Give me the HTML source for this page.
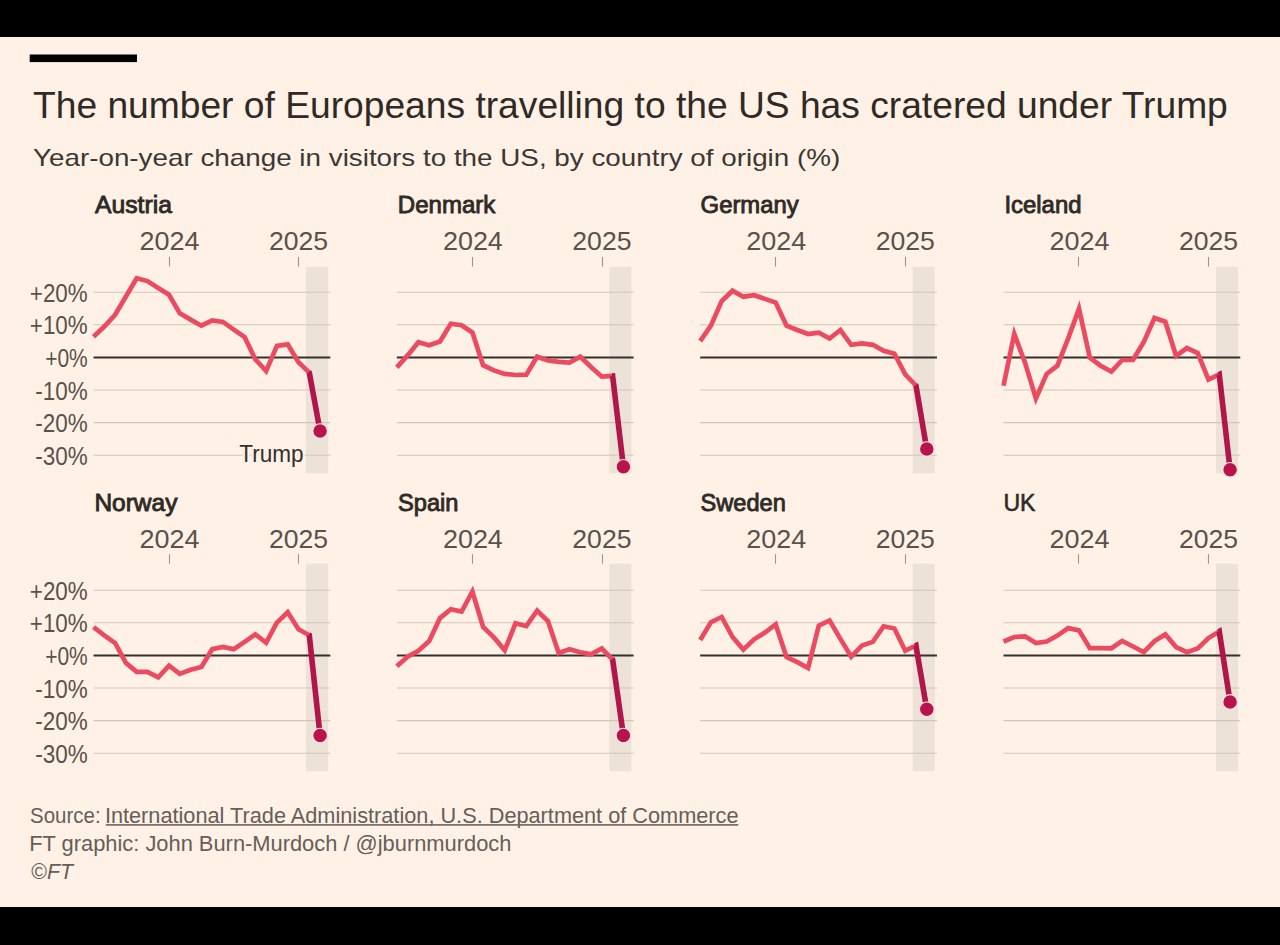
<!DOCTYPE html>
<html><head><meta charset="utf-8"><style>
html,body{margin:0;padding:0;background:#000;}
svg{display:block;}
text{font-family:"Liberation Sans",sans-serif;}
.tt{font-size:37.8px;fill:#2f2a26;}
.st{font-size:23.4px;fill:#3d3733;}
.nm{font-size:24.7px;fill:#2e2a26;stroke:#2e2a26;stroke-width:0.9px;}
.nm2{font-size:24.7px;fill:#2e2a26;stroke:#2e2a26;stroke-width:0.6px;}
.yr{font-size:26px;fill:#5a514b;}
.yl{font-size:26px;fill:#5a514b;}
.ft{font-size:21.8px;fill:#655e59;}
.tr{font-size:24.4px;fill:#33302e;stroke:#fff1e5;stroke-width:5px;paint-order:stroke;stroke-linejoin:round;}
</style></head><body>
<svg width="1280" height="945" viewBox="0 0 1280 945">
<rect x="0" y="0" width="1280" height="945" fill="#000"/>
<rect x="0" y="37" width="1280" height="870" fill="#fff1e5"/>
<rect x="29.7" y="54.5" width="107.3" height="7.6" fill="#000"/>
<text x="33.00" y="118.40" class="tt" textLength="1194.80" lengthAdjust="spacingAndGlyphs">The number of Europeans travelling to the US has cratered under Trump</text>
<text x="33.00" y="165.80" class="st" textLength="807.21" lengthAdjust="spacingAndGlyphs">Year-on-year change in visitors to the US, by country of origin (%)</text>
<text x="95.00" y="213.00" class="nm" textLength="76.88" lengthAdjust="spacingAndGlyphs">Austria</text>
<text x="397.80" y="213.00" class="nm" textLength="97.48" lengthAdjust="spacingAndGlyphs">Denmark</text>
<text x="700.60" y="213.00" class="nm" textLength="98.06" lengthAdjust="spacingAndGlyphs">Germany</text>
<text x="1004.40" y="213.00" class="nm" textLength="77.10" lengthAdjust="spacingAndGlyphs">Iceland</text>
<text x="94.40" y="510.80" class="nm" textLength="83.06" lengthAdjust="spacingAndGlyphs">Norway</text>
<text x="398.00" y="510.80" class="nm" textLength="60.52" lengthAdjust="spacingAndGlyphs">Spain</text>
<text x="700.60" y="510.80" class="nm" textLength="85.27" lengthAdjust="spacingAndGlyphs">Sweden</text>
<text x="1003.40" y="510.80" class="nm2" textLength="32.10" lengthAdjust="spacingAndGlyphs">UK</text>
<text x="30.10" y="822.80" class="ft" textLength="70.51" lengthAdjust="spacingAndGlyphs">Source:</text>
<text x="104.90" y="822.80" class="ft" textLength="633.62" lengthAdjust="spacingAndGlyphs">International Trade Administration, U.S. Department of Commerce</text>
<text x="29.20" y="851.30" class="ft" textLength="482.23" lengthAdjust="spacingAndGlyphs">FT graphic: John Burn-Murdoch / @jburnmurdoch</text>
<text x="31.30" y="879.20" class="ft" textLength="41.82" lengthAdjust="spacingAndGlyphs">©<tspan font-style="italic">FT</tspan></text>
<rect x="306.00" y="266.9" width="22.1" height="206.4" fill="#ede2d8"/>
<line x1="93.50" x2="330.30" y1="292.2" y2="292.2" stroke="#d2c6bb" stroke-width="1.1"/>
<line x1="93.50" x2="330.30" y1="324.8" y2="324.8" stroke="#d2c6bb" stroke-width="1.1"/>
<line x1="93.50" x2="330.30" y1="390.0" y2="390.0" stroke="#d2c6bb" stroke-width="1.1"/>
<line x1="93.50" x2="330.30" y1="422.6" y2="422.6" stroke="#d2c6bb" stroke-width="1.1"/>
<line x1="93.50" x2="330.30" y1="455.2" y2="455.2" stroke="#d2c6bb" stroke-width="1.1"/>
<line x1="169.5" x2="169.5" y1="257" y2="266.5" stroke="#9d948d" stroke-width="1.1"/>
<line x1="298.5" x2="298.5" y1="257" y2="266.5" stroke="#9d948d" stroke-width="1.1"/>
<text x="139.60" y="250.20" class="yr" textLength="59.92" lengthAdjust="spacingAndGlyphs">2024</text>
<text x="269.00" y="250.20" class="yr" textLength="59.14" lengthAdjust="spacingAndGlyphs">2025</text>
<text x="29.80" y="301.80" class="yl" textLength="57.94" lengthAdjust="spacingAndGlyphs">+20%</text>
<text x="29.80" y="334.40" class="yl" textLength="57.94" lengthAdjust="spacingAndGlyphs">+10%</text>
<text x="45.20" y="367.00" class="yl" textLength="42.50" lengthAdjust="spacingAndGlyphs">+0%</text>
<text x="35.20" y="399.60" class="yl" textLength="52.48" lengthAdjust="spacingAndGlyphs">-10%</text>
<text x="35.20" y="432.20" class="yl" textLength="52.48" lengthAdjust="spacingAndGlyphs">-20%</text>
<text x="35.20" y="464.80" class="yl" textLength="52.48" lengthAdjust="spacingAndGlyphs">-30%</text>
<line x1="93.50" x2="330.30" y1="357.4" y2="357.4" stroke="#33302e" stroke-width="2"/>
<polyline points="93.5,336.8 104.3,326.5 115.1,314.8 125.9,296.5 136.7,278.3 147.4,281.1 158.2,288.0 169.0,294.8 179.8,313.4 190.6,319.6 201.4,325.7 212.2,320.5 223.0,321.9 233.8,329.6 244.6,337.0 255.3,359.3 266.1,371.1 276.9,345.9 287.7,344.4 298.5,362.2 309.3,372.6" fill="none" stroke="#ec4a60" stroke-width="4.7" stroke-linejoin="miter" stroke-linecap="butt"/>
<polyline points="308.87,372.18 309.30,372.60 320.09,431.00" fill="none" stroke="#b0164a" stroke-width="5.6" stroke-linecap="butt" stroke-linejoin="miter"/>
<circle cx="320.1" cy="431.0" r="7.3" fill="#b8134b" stroke="#fbe6e4" stroke-width="1.1"/>
<rect x="609.33" y="266.9" width="22.1" height="206.4" fill="#ede2d8"/>
<line x1="396.83" x2="633.63" y1="292.2" y2="292.2" stroke="#d2c6bb" stroke-width="1.1"/>
<line x1="396.83" x2="633.63" y1="324.8" y2="324.8" stroke="#d2c6bb" stroke-width="1.1"/>
<line x1="396.83" x2="633.63" y1="390.0" y2="390.0" stroke="#d2c6bb" stroke-width="1.1"/>
<line x1="396.83" x2="633.63" y1="422.6" y2="422.6" stroke="#d2c6bb" stroke-width="1.1"/>
<line x1="396.83" x2="633.63" y1="455.2" y2="455.2" stroke="#d2c6bb" stroke-width="1.1"/>
<line x1="472.5" x2="472.5" y1="257" y2="266.5" stroke="#9d948d" stroke-width="1.1"/>
<line x1="602.5" x2="602.5" y1="257" y2="266.5" stroke="#9d948d" stroke-width="1.1"/>
<text x="442.93" y="250.20" class="yr" textLength="59.92" lengthAdjust="spacingAndGlyphs">2024</text>
<text x="572.33" y="250.20" class="yr" textLength="59.14" lengthAdjust="spacingAndGlyphs">2025</text>
<line x1="396.83" x2="633.63" y1="357.4" y2="357.4" stroke="#33302e" stroke-width="2"/>
<polyline points="396.8,367.4 407.6,355.4 418.4,342.2 429.2,345.2 440.0,341.5 450.8,323.7 461.6,325.2 472.4,332.6 483.1,365.2 493.9,370.4 504.7,373.9 515.5,375.0 526.3,374.6 537.1,356.7 547.9,360.4 558.7,361.9 569.5,362.6 580.3,356.7 591.0,367.0 601.8,376.7 612.6,375.9" fill="none" stroke="#ec4a60" stroke-width="4.7" stroke-linejoin="miter" stroke-linecap="butt"/>
<polyline points="612.03,375.94 612.63,375.90 623.42,466.80" fill="none" stroke="#b0164a" stroke-width="5.6" stroke-linecap="butt" stroke-linejoin="miter"/>
<circle cx="623.4" cy="466.8" r="7.3" fill="#b8134b" stroke="#fbe6e4" stroke-width="1.1"/>
<rect x="912.66" y="266.9" width="22.1" height="206.4" fill="#ede2d8"/>
<line x1="700.16" x2="936.96" y1="292.2" y2="292.2" stroke="#d2c6bb" stroke-width="1.1"/>
<line x1="700.16" x2="936.96" y1="324.8" y2="324.8" stroke="#d2c6bb" stroke-width="1.1"/>
<line x1="700.16" x2="936.96" y1="390.0" y2="390.0" stroke="#d2c6bb" stroke-width="1.1"/>
<line x1="700.16" x2="936.96" y1="422.6" y2="422.6" stroke="#d2c6bb" stroke-width="1.1"/>
<line x1="700.16" x2="936.96" y1="455.2" y2="455.2" stroke="#d2c6bb" stroke-width="1.1"/>
<line x1="775.5" x2="775.5" y1="257" y2="266.5" stroke="#9d948d" stroke-width="1.1"/>
<line x1="905.5" x2="905.5" y1="257" y2="266.5" stroke="#9d948d" stroke-width="1.1"/>
<text x="746.26" y="250.20" class="yr" textLength="59.92" lengthAdjust="spacingAndGlyphs">2024</text>
<text x="875.66" y="250.20" class="yr" textLength="59.14" lengthAdjust="spacingAndGlyphs">2025</text>
<line x1="700.16" x2="936.96" y1="357.4" y2="357.4" stroke="#33302e" stroke-width="2"/>
<polyline points="700.2,341.1 710.9,325.6 721.7,301.1 732.5,290.7 743.3,296.7 754.1,295.2 764.9,298.9 775.7,302.6 786.5,325.6 797.3,330.0 808.1,334.0 818.8,332.6 829.6,338.5 840.4,330.0 851.2,344.8 862.0,343.3 872.8,344.8 883.6,350.7 894.4,353.7 905.2,374.4 916.0,385.6" fill="none" stroke="#ec4a60" stroke-width="4.7" stroke-linejoin="miter" stroke-linecap="butt"/>
<polyline points="915.54,385.17 915.96,385.60 926.75,449.00" fill="none" stroke="#b0164a" stroke-width="5.6" stroke-linecap="butt" stroke-linejoin="miter"/>
<circle cx="926.8" cy="449.0" r="7.3" fill="#b8134b" stroke="#fbe6e4" stroke-width="1.1"/>
<rect x="1215.99" y="266.9" width="22.1" height="206.4" fill="#ede2d8"/>
<line x1="1003.49" x2="1240.29" y1="292.2" y2="292.2" stroke="#d2c6bb" stroke-width="1.1"/>
<line x1="1003.49" x2="1240.29" y1="324.8" y2="324.8" stroke="#d2c6bb" stroke-width="1.1"/>
<line x1="1003.49" x2="1240.29" y1="390.0" y2="390.0" stroke="#d2c6bb" stroke-width="1.1"/>
<line x1="1003.49" x2="1240.29" y1="422.6" y2="422.6" stroke="#d2c6bb" stroke-width="1.1"/>
<line x1="1003.49" x2="1240.29" y1="455.2" y2="455.2" stroke="#d2c6bb" stroke-width="1.1"/>
<line x1="1078.5" x2="1078.5" y1="257" y2="266.5" stroke="#9d948d" stroke-width="1.1"/>
<line x1="1208.5" x2="1208.5" y1="257" y2="266.5" stroke="#9d948d" stroke-width="1.1"/>
<text x="1049.59" y="250.20" class="yr" textLength="59.92" lengthAdjust="spacingAndGlyphs">2024</text>
<text x="1178.99" y="250.20" class="yr" textLength="59.14" lengthAdjust="spacingAndGlyphs">2025</text>
<line x1="1003.49" x2="1240.29" y1="357.4" y2="357.4" stroke="#33302e" stroke-width="2"/>
<polyline points="1003.5,385.7 1014.3,334.0 1025.1,362.9 1035.9,398.5 1046.7,373.9 1057.4,365.7 1068.2,338.3 1079.0,308.7 1089.8,357.6 1100.6,365.7 1111.4,371.5 1122.2,360.0 1133.0,359.8 1143.8,342.0 1154.5,318.0 1165.3,321.7 1176.1,356.0 1186.9,348.0 1197.7,353.0 1208.5,379.6 1219.3,374.4" fill="none" stroke="#ec4a60" stroke-width="4.7" stroke-linejoin="miter" stroke-linecap="butt"/>
<polyline points="1218.75,374.66 1219.29,374.40 1230.08,469.80" fill="none" stroke="#b0164a" stroke-width="5.6" stroke-linecap="butt" stroke-linejoin="miter"/>
<circle cx="1230.1" cy="469.8" r="7.3" fill="#b8134b" stroke="#fbe6e4" stroke-width="1.1"/>
<rect x="306.00" y="563.7" width="22.1" height="207.6" fill="#ede2d8"/>
<line x1="93.50" x2="330.30" y1="590.2" y2="590.2" stroke="#d2c6bb" stroke-width="1.1"/>
<line x1="93.50" x2="330.30" y1="622.8" y2="622.8" stroke="#d2c6bb" stroke-width="1.1"/>
<line x1="93.50" x2="330.30" y1="688.0" y2="688.0" stroke="#d2c6bb" stroke-width="1.1"/>
<line x1="93.50" x2="330.30" y1="720.6" y2="720.6" stroke="#d2c6bb" stroke-width="1.1"/>
<line x1="93.50" x2="330.30" y1="753.2" y2="753.2" stroke="#d2c6bb" stroke-width="1.1"/>
<line x1="169.5" x2="169.5" y1="554.2" y2="563.7" stroke="#9d948d" stroke-width="1.1"/>
<line x1="298.5" x2="298.5" y1="554.2" y2="563.7" stroke="#9d948d" stroke-width="1.1"/>
<text x="139.60" y="548.20" class="yr" textLength="59.92" lengthAdjust="spacingAndGlyphs">2024</text>
<text x="269.00" y="548.20" class="yr" textLength="59.14" lengthAdjust="spacingAndGlyphs">2025</text>
<text x="29.80" y="599.80" class="yl" textLength="57.94" lengthAdjust="spacingAndGlyphs">+20%</text>
<text x="29.80" y="632.40" class="yl" textLength="57.94" lengthAdjust="spacingAndGlyphs">+10%</text>
<text x="45.20" y="665.00" class="yl" textLength="42.50" lengthAdjust="spacingAndGlyphs">+0%</text>
<text x="35.20" y="697.60" class="yl" textLength="52.48" lengthAdjust="spacingAndGlyphs">-10%</text>
<text x="35.20" y="730.20" class="yl" textLength="52.48" lengthAdjust="spacingAndGlyphs">-20%</text>
<text x="35.20" y="762.80" class="yl" textLength="52.48" lengthAdjust="spacingAndGlyphs">-30%</text>
<line x1="93.50" x2="330.30" y1="655.4" y2="655.4" stroke="#33302e" stroke-width="2"/>
<polyline points="93.5,627.1 104.3,635.4 115.1,643.0 125.9,662.9 136.7,671.8 147.4,671.8 158.2,677.3 169.0,665.7 179.8,673.9 190.6,669.8 201.4,667.0 212.2,649.2 223.0,647.0 233.8,649.3 244.6,641.9 255.3,634.4 266.1,642.6 276.9,622.6 287.7,612.2 298.5,629.3 309.3,635.2" fill="none" stroke="#ec4a60" stroke-width="4.7" stroke-linejoin="miter" stroke-linecap="butt"/>
<polyline points="308.77,634.91 309.30,635.20 320.09,735.60" fill="none" stroke="#b0164a" stroke-width="5.6" stroke-linecap="butt" stroke-linejoin="miter"/>
<circle cx="320.1" cy="735.6" r="7.3" fill="#b8134b" stroke="#fbe6e4" stroke-width="1.1"/>
<rect x="609.33" y="563.7" width="22.1" height="207.6" fill="#ede2d8"/>
<line x1="396.83" x2="633.63" y1="590.2" y2="590.2" stroke="#d2c6bb" stroke-width="1.1"/>
<line x1="396.83" x2="633.63" y1="622.8" y2="622.8" stroke="#d2c6bb" stroke-width="1.1"/>
<line x1="396.83" x2="633.63" y1="688.0" y2="688.0" stroke="#d2c6bb" stroke-width="1.1"/>
<line x1="396.83" x2="633.63" y1="720.6" y2="720.6" stroke="#d2c6bb" stroke-width="1.1"/>
<line x1="396.83" x2="633.63" y1="753.2" y2="753.2" stroke="#d2c6bb" stroke-width="1.1"/>
<line x1="472.5" x2="472.5" y1="554.2" y2="563.7" stroke="#9d948d" stroke-width="1.1"/>
<line x1="602.5" x2="602.5" y1="554.2" y2="563.7" stroke="#9d948d" stroke-width="1.1"/>
<text x="442.93" y="548.20" class="yr" textLength="59.92" lengthAdjust="spacingAndGlyphs">2024</text>
<text x="572.33" y="548.20" class="yr" textLength="59.14" lengthAdjust="spacingAndGlyphs">2025</text>
<line x1="396.83" x2="633.63" y1="655.4" y2="655.4" stroke="#33302e" stroke-width="2"/>
<polyline points="396.8,666.3 407.6,656.7 418.4,650.7 429.2,641.1 440.0,618.1 450.8,609.3 461.6,611.5 472.4,591.5 483.1,627.0 493.9,637.4 504.7,650.3 515.5,623.3 526.3,626.0 537.1,610.7 547.9,621.1 558.7,653.0 569.5,649.3 580.3,652.2 591.0,654.4 601.8,648.5 612.6,659.6" fill="none" stroke="#ec4a60" stroke-width="4.7" stroke-linejoin="miter" stroke-linecap="butt"/>
<polyline points="612.21,659.17 612.63,659.60 623.42,735.60" fill="none" stroke="#b0164a" stroke-width="5.6" stroke-linecap="butt" stroke-linejoin="miter"/>
<circle cx="623.4" cy="735.6" r="7.3" fill="#b8134b" stroke="#fbe6e4" stroke-width="1.1"/>
<rect x="912.66" y="563.7" width="22.1" height="207.6" fill="#ede2d8"/>
<line x1="700.16" x2="936.96" y1="590.2" y2="590.2" stroke="#d2c6bb" stroke-width="1.1"/>
<line x1="700.16" x2="936.96" y1="622.8" y2="622.8" stroke="#d2c6bb" stroke-width="1.1"/>
<line x1="700.16" x2="936.96" y1="688.0" y2="688.0" stroke="#d2c6bb" stroke-width="1.1"/>
<line x1="700.16" x2="936.96" y1="720.6" y2="720.6" stroke="#d2c6bb" stroke-width="1.1"/>
<line x1="700.16" x2="936.96" y1="753.2" y2="753.2" stroke="#d2c6bb" stroke-width="1.1"/>
<line x1="775.5" x2="775.5" y1="554.2" y2="563.7" stroke="#9d948d" stroke-width="1.1"/>
<line x1="905.5" x2="905.5" y1="554.2" y2="563.7" stroke="#9d948d" stroke-width="1.1"/>
<text x="746.26" y="548.20" class="yr" textLength="59.92" lengthAdjust="spacingAndGlyphs">2024</text>
<text x="875.66" y="548.20" class="yr" textLength="59.14" lengthAdjust="spacingAndGlyphs">2025</text>
<line x1="700.16" x2="936.96" y1="655.4" y2="655.4" stroke="#33302e" stroke-width="2"/>
<polyline points="700.2,640.0 710.9,622.2 721.7,617.0 732.5,637.0 743.3,649.6 754.1,639.3 764.9,632.6 775.7,624.4 786.5,657.0 797.3,662.2 808.1,668.0 818.8,625.7 829.6,620.5 840.4,638.9 851.2,656.7 862.0,645.6 872.8,641.9 883.6,626.3 894.4,628.5 905.2,650.7 916.0,645.6" fill="none" stroke="#ec4a60" stroke-width="4.7" stroke-linejoin="miter" stroke-linecap="butt"/>
<polyline points="915.42,645.86 915.96,645.60 926.75,709.30" fill="none" stroke="#b0164a" stroke-width="5.6" stroke-linecap="butt" stroke-linejoin="miter"/>
<circle cx="926.8" cy="709.3" r="7.3" fill="#b8134b" stroke="#fbe6e4" stroke-width="1.1"/>
<rect x="1215.99" y="563.7" width="22.1" height="207.6" fill="#ede2d8"/>
<line x1="1003.49" x2="1240.29" y1="590.2" y2="590.2" stroke="#d2c6bb" stroke-width="1.1"/>
<line x1="1003.49" x2="1240.29" y1="622.8" y2="622.8" stroke="#d2c6bb" stroke-width="1.1"/>
<line x1="1003.49" x2="1240.29" y1="688.0" y2="688.0" stroke="#d2c6bb" stroke-width="1.1"/>
<line x1="1003.49" x2="1240.29" y1="720.6" y2="720.6" stroke="#d2c6bb" stroke-width="1.1"/>
<line x1="1003.49" x2="1240.29" y1="753.2" y2="753.2" stroke="#d2c6bb" stroke-width="1.1"/>
<line x1="1078.5" x2="1078.5" y1="554.2" y2="563.7" stroke="#9d948d" stroke-width="1.1"/>
<line x1="1208.5" x2="1208.5" y1="554.2" y2="563.7" stroke="#9d948d" stroke-width="1.1"/>
<text x="1049.59" y="548.20" class="yr" textLength="59.92" lengthAdjust="spacingAndGlyphs">2024</text>
<text x="1178.99" y="548.20" class="yr" textLength="59.14" lengthAdjust="spacingAndGlyphs">2025</text>
<line x1="1003.49" x2="1240.29" y1="655.4" y2="655.4" stroke="#33302e" stroke-width="2"/>
<polyline points="1003.5,641.5 1014.3,637.0 1025.1,636.3 1035.9,643.0 1046.7,641.5 1057.4,635.6 1068.2,628.1 1079.0,630.4 1089.8,648.1 1100.6,648.1 1111.4,648.3 1122.2,640.9 1133.0,646.5 1143.8,652.2 1154.5,641.1 1165.3,634.4 1176.1,647.0 1186.9,652.2 1197.7,648.5 1208.5,638.1 1219.3,631.5" fill="none" stroke="#ec4a60" stroke-width="4.7" stroke-linejoin="miter" stroke-linecap="butt"/>
<polyline points="1218.78,631.81 1219.29,631.50 1230.08,701.90" fill="none" stroke="#b0164a" stroke-width="5.6" stroke-linecap="butt" stroke-linejoin="miter"/>
<circle cx="1230.1" cy="701.9" r="7.3" fill="#b8134b" stroke="#fbe6e4" stroke-width="1.1"/>
<text x="239.20" y="461.60" class="tr" textLength="64.44" lengthAdjust="spacingAndGlyphs">Trump</text>
<rect x="105.9" y="824.1" width="632.4" height="1.6" fill="#6b6460"/>
</svg>
</body></html>
